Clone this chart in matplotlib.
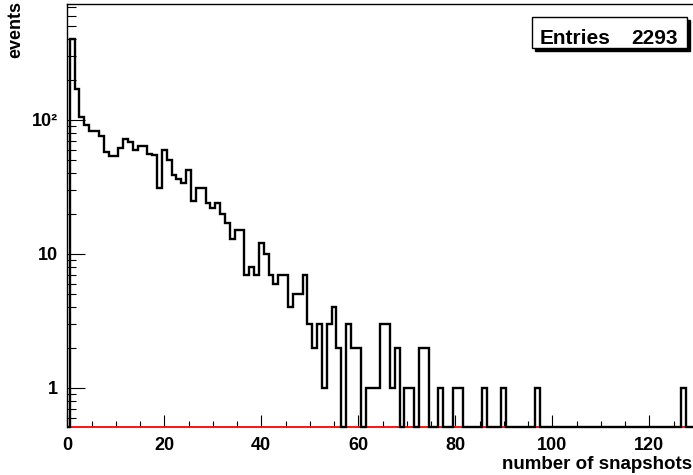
import numpy as np
import matplotlib
matplotlib.use("Agg")
import matplotlib.pyplot as plt
from matplotlib.patches import Rectangle
from matplotlib.ticker import FixedLocator, MultipleLocator, LogLocator, NullFormatter

plt.rcParams['font.family'] = ['Liberation Sans', 'DejaVu Sans']
plt.rcParams['font.weight'] = 'bold'

# events per number of snapshots, one bin per integer 0..129
counts = [0, 400, 170, 105, 92, 83, 83, 76, 58, 54,
          54, 62, 72, 69, 60, 64, 64, 56, 55, 31,
          60, 50, 39, 36, 34, 42, 25, 31, 31, 24,
          22, 24, 20, 17, 13, 15, 15, 7, 8, 7,
          12, 10, 7, 6, 7, 7, 4, 5, 5, 7,
          3, 2, 3, 1, 3, 4, 2, 0, 3, 2,
          2, 0, 1, 1, 1, 3, 3, 1, 2, 0,
          1, 1, 0, 2, 2, 0, 0, 1, 0, 0,
          1, 1, 0, 0, 0, 0, 1, 0, 0, 0,
          1, 0, 0, 0, 0, 0, 0, 1, 0, 0,
          0, 0, 0, 0, 0, 0, 0, 0, 0, 0,
          0, 0, 0, 0, 0, 0, 0, 0, 0, 0,
          0, 0, 0, 0, 0, 0, 0, 1, 0, 0]
entries = 2293
x_label = "number of snapshots"
y_label = "events"
y_ticks = [1, 10, 100]
y_tick_labels = ["1", "10", "10\u00b2"]

W, H = 693, 475
y_bottom, y_top = 0.51, 734

counts = np.array(counts, dtype=float)
edges = np.arange(len(counts) + 1) - 0.5

fig = plt.figure(figsize=(W / 100, H / 100), dpi=100)
ax = fig.add_axes([67.3 / W, 48 / H, (W - 67.3) / W, 423 / H])

# clip at the left/right frame only, so lines on the bottom edge are drawn whole
def frame_clip():
    return Rectangle((0, -0.05), 1, 1.1, transform=ax.transAxes)

# zero bins sit on the bottom of the frame (log axis)
red = ax.axhline(y_bottom, color='red', lw=1.3, zorder=3)
red.set_clip_path(frame_clip())
st = ax.stairs(np.where(counts > 0, counts, y_bottom), edges, baseline=None,
               color='black', lw=1.7, zorder=4)
st.set_clip_path(frame_clip())

ax.set_yscale('log')
ax.set_xlim(0, (W - 67.3) / 4.85)
ax.set_ylim(y_bottom, y_top)

ax.yaxis.set_major_locator(FixedLocator(y_ticks))
ax.set_yticklabels(y_tick_labels)
ax.yaxis.set_minor_locator(LogLocator(base=10, subs=range(2, 10)))
ax.yaxis.set_minor_formatter(NullFormatter())
ax.xaxis.set_major_locator(MultipleLocator(20))
ax.xaxis.set_minor_locator(MultipleLocator(5))

ax.tick_params(axis='y', which='major', direction='in', length=13, width=0.8,
               pad=6.5, labelsize=13)
ax.tick_params(axis='y', which='minor', direction='in', length=6.7, width=0.8)
ax.tick_params(axis='x', which='major', direction='in', length=8.6, width=0.8,
               pad=7, labelsize=13)
ax.tick_params(axis='x', which='minor', direction='in', length=4.3, width=0.8)

ax.spines['right'].set_visible(False)
ax.spines['bottom'].set_visible(False)
for s in ['left', 'top']:
    ax.spines[s].set_linewidth(1)
    ax.spines[s].set_color('black')

fig.text(502 / W, (H - 469) / H, x_label, fontsize=13.5, ha='left', va='baseline')
fig.text(16 / W, 1 - 1 / H, y_label, fontsize=13, rotation=90, ha='center', va='top')

# stats box with shadow
bx0, bx1, by0, by1 = 532, 687, 17, 48
fig.patches.append(Rectangle(((bx0 + 3) / W, (H - by1 - 3) / H), (bx1 - bx0) / W,
                             (by1 - by0) / H, transform=fig.transFigure,
                             facecolor='black', edgecolor='black', zorder=5))
fig.patches.append(Rectangle((bx0 / W, (H - by1) / H), (bx1 - bx0) / W,
                             (by1 - by0) / H, transform=fig.transFigure,
                             facecolor='white', edgecolor='black', lw=1, zorder=6))
fig.text(540 / W, (H - 44) / H, "Entries", fontsize=15, ha='left', va='baseline', zorder=7)
fig.text(678 / W, (H - 44) / H, str(entries), fontsize=15, ha='right', va='baseline', zorder=7)

fig.savefig("out.png", dpi=100)
